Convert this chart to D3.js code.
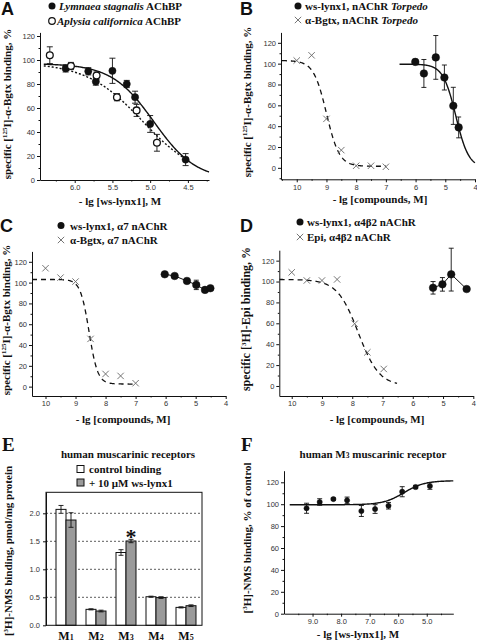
<!DOCTYPE html>
<html><head><meta charset="utf-8">
<script src="https://cdn.jsdelivr.net/npm/d3@7"></script>
<style>
body{margin:0;background:#fff}
svg{display:block}
text{font-family:"Liberation Serif","Times New Roman",serif;font-weight:bold;fill:#111}
.tick text{font-family:"Liberation Sans",Arial,sans-serif;font-weight:normal;font-size:7.5px;fill:#333}
.plet{font-family:"Liberation Sans",Arial,sans-serif;font-weight:bold;font-size:18px}
</style></head><body>
<svg id="c" width="477" height="644"></svg>
<script>
// ---------- DATA ----------
// Panel A
const A_lymX = [6.12, 5.82, 5.72, 5.5, 5.31, 5.2, 5.0, 4.53];
const A_lymY = [93, 90.6, 82, 91, 80, 69, 46.7, 17];
const A_lymE = [3, 3, 3, 10.5, 3, 5, 7, 5];
const A_aplX = [6.33, 6.05, 5.71, 5.44, 5.18, 4.91];
const A_aplY = [104, 95, 87, 69, 58, 31];
const A_aplE = [7, 3, 3, 3, 5, 7];
const A_fitLym = {top: 97, bottom: 0, p50: 4.95, n: 1.55, from: 6.41, to: 4.22};
const A_fitApl = {top: 98, bottom: 0, p50: 5.10, n: 1.16, from: 6.41, to: 4.48};
// Panel B
const B_lynxX = [6.01, 5.72, 5.32, 5.03, 4.73, 4.55];
const B_lynxY = [101.7, 90.6, 106, 86.7, 59.5, 38.8];
const B_lynxE = [2.5, 13.4, 21, 12, 17.8, 10];
const B_bgtxX = [10, 9.5, 9, 8.5, 8, 7.5, 7];
const B_bgtxY = [103, 108, 47, 17, 2, 2, 1];
const B_fitLynx = {top: 99.5, bottom: 0, p50: 4.645, n: 2.0, from: 6.54, to: 4.0};
const B_fitBgtx = {top: 103, bottom: 1.5, p50: 9.0, n: 2.0, from: 10.5, to: 7.0};
// Panel C
const C_lynxX = [6.03, 5.7, 5.29, 4.98, 4.69, 4.51];
const C_lynxY = [108, 106.4, 101.6, 97.8, 93, 94.6];
const C_lynxE = [1.5, 2, 2.5, 4.5, 1.5, 1.5];
const C_bgtxX = [10, 9.5, 9, 8.5, 8, 7.5, 7];
const C_bgtxY = [113.8, 104.8, 101, 45.9, 12.2, 10.3, 3.3];
const C_fitBgtx = {top: 103, bottom: 2.5, p50: 8.55, n: 3.0, from: 10.45, to: 7.0};
// Panel D
const D_lynxX = [5.33, 5.02, 4.73, 4.22];
const D_lynxY = [94, 97.3, 106.9, 92.8];
const D_lynxEup = [6, 6.5, 25, 1];
const D_lynxEdn = [6, 6.5, 16, 1];
const D_epiX = [10, 9.5, 9, 8.5, 7.92, 7.5, 6.96];
const D_epiY = [108.8, 101, 101, 102, 59.6, 32.2, 16.3];
const D_fitEpi = {top: 102, bottom: 0, p50: 7.8, n: 1.25, from: 10.4, to: 6.52};
// Panel E
const E_cats = ["1", "2", "3", "4", "5"];
const E_ctrl = [2.07, 0.285, 1.30, 0.51, 0.32];
const E_ctrlE = [0.07, 0.01, 0.05, 0.01, 0.01];
const E_lynx = [1.88, 0.255, 1.505, 0.495, 0.35];
const E_lynxE = [0.13, 0.015, 0.03, 0.015, 0.015];
const E_yTicks = [0, 0.5, 1.0, 1.5, 2.0];
const E_grid = [0.5, 1.0, 1.5, 2.0];
// Panel F
const F_x = [9.21, 8.75, 8.27, 7.79, 7.29, 6.81, 6.34, 5.86, 5.39, 4.89];
const F_y = [96.3, 102, 104.7, 103.5, 93.8, 95.6, 98.6, 111.4, 115.7, 116.6];
const F_e = [4.6, 3, 1, 3, 5, 4, 3, 4.6, 1.5, 3];
const F_fit = {low: 99.5, high: 121.5, p50: 5.8, n: 1.2, from: 9.8, to: 4.07};

// ---------- DRAW ----------
const svg = d3.select("#c");

function inhib(f){ return p => f.bottom + (f.top - f.bottom) / (1 + Math.pow(10, f.n * (f.p50 - p))); }
function stim(f){ return p => f.low + (f.high - f.low) / (1 + Math.pow(10, f.n * (p - f.p50))); }

function styleAxis(sel){
  sel.selectAll("path.domain").attr("stroke","#111").attr("stroke-width",1);
  sel.selectAll(".tick line").attr("stroke","#111");
}

function xyPanel(cfg){
  const x = d3.scaleLinear().domain(cfg.xd).range(cfg.xr);
  const y = d3.scaleLinear().domain(cfg.yd).range(cfg.yr);
  const g = svg.append("g");
  const fy = cfg.yFmt || d3.format("d");
  const fx = cfg.xFmt || d3.format("d");
  g.append("g").attr("transform",`translate(${cfg.xr[0]},0)`)
    .call(d3.axisLeft(y).tickValues(cfg.yMajor).tickSize(3).tickSizeOuter(0).tickPadding(2).tickFormat(fy)).call(styleAxis);
  g.append("g").attr("transform",`translate(${cfg.xr[0]},0)`)
    .call(d3.axisLeft(y).tickValues(cfg.yMinor).tickSize(1.5).tickSizeOuter(0).tickFormat("")).call(styleAxis)
    .select("path.domain").remove();
  g.append("g").attr("transform",`translate(0,${cfg.yr[0]})`)
    .call(d3.axisBottom(x).tickValues(cfg.xMajor).tickSize(3).tickSizeOuter(0).tickPadding(2).tickFormat(fx)).call(styleAxis);
  g.append("g").attr("transform",`translate(0,${cfg.yr[0]})`)
    .call(d3.axisBottom(x).tickValues(cfg.xMinor).tickSize(1.5).tickSizeOuter(0).tickFormat("")).call(styleAxis)
    .select("path.domain").remove();
  return {g, x, y};
}

function curve(P, fn, from, to, dash, width){
  const pts = d3.range(0, 201).map(i => from + (to - from) * i / 200);
  P.g.append("path")
    .attr("d", d3.line().x(p => P.x(p)).y(p => P.y(fn(p)))(pts))
    .attr("fill","none").attr("stroke","#111").attr("stroke-width", width || 1.3)
    .attr("stroke-dasharray", dash || null);
}

function errBars(P, xs, ys, up, dn, cap){
  cap = cap || 3;
  xs.forEach((xv, i) => {
    const cx = P.x(xv), y1 = P.y(ys[i] + up[i]), y0 = P.y(ys[i] - dn[i]);
    P.g.append("line").attr("x1",cx).attr("x2",cx).attr("y1",y1).attr("y2",y0).attr("stroke","#111").attr("stroke-width",0.9);
    [y1, y0].forEach(yy => P.g.append("line").attr("x1",cx-cap).attr("x2",cx+cap).attr("y1",yy).attr("y2",yy).attr("stroke","#111").attr("stroke-width",0.9));
  });
}

function dots(P, xs, ys, r, open){
  xs.forEach((xv, i) => P.g.append("circle").attr("cx",P.x(xv)).attr("cy",P.y(ys[i])).attr("r",r)
    .attr("fill", open ? "#fff" : "#111").attr("stroke","#111").attr("stroke-width", open ? 1.3 : 0.5));
}

function crossMark(g, cx, cy, s){
  g.append("path").attr("d",`M${cx-s},${cy-s}L${cx+s},${cy+s}M${cx-s},${cy+s}L${cx+s},${cy-s}`)
    .attr("stroke","#666").attr("stroke-width",0.9).attr("fill","none");
}
function crosses(P, xs, ys){ xs.forEach((xv,i) => crossMark(P.g, P.x(xv), P.y(ys[i]), 3.2)); }

function connect(P, xs, ys){
  P.g.append("path").attr("d", d3.line().x((d,i)=>P.x(xs[i])).y((d,i)=>P.y(ys[i]))(xs))
    .attr("fill","none").attr("stroke","#111").attr("stroke-width",1);
}

function yLabel(cx, cy, parts, size){
  const t = svg.append("text").attr("transform",`translate(${cx},${cy}) rotate(-90)`)
    .attr("text-anchor","middle").attr("font-size", size || 11);
  parts.forEach(p => {
    const ts = t.append("tspan").text(p.t);
    if (p.sup) ts.attr("font-size", 7).attr("dy", -4);
    if (p.after) ts.attr("dy", 4);
  });
  return t;
}
function xLabel(cx, cy, txt){
  svg.append("text").attr("x",cx).attr("y",cy).attr("text-anchor","middle").attr("font-size",11).text(txt);
}
function legendText(x, y, parts){
  const t = svg.append("text").attr("x",x).attr("y",y).attr("font-size",11);
  parts.forEach(p => { const ts = t.append("tspan").text(p.t); if (p.i) ts.attr("font-style","italic"); });
}
function letter(x, y, s, serif){
  const t = svg.append("text").attr("x",x).attr("y",y).text(s);
  if (serif) t.attr("font-size",19); else t.attr("class","plet");
}

const yMaj = [0,20,40,60,80,100,120];
const yMin = [10,30,50,70,90,110];

// ===== Panel A =====
const PA = xyPanel({xd:[6.46,4.22], xr:[40,209], yd:[0,123], yr:[180,32.4],
  yMajor:yMaj, yMinor:yMin, xMajor:[6.0,5.5,5.0,4.5], xMinor:[6.25,5.75,5.25,4.75,4.25], xFmt:d3.format(".1f")});
curve(PA, inhib(A_fitLym), A_fitLym.from, A_fitLym.to, null, 1.4);
curve(PA, inhib(A_fitApl), A_fitApl.from, A_fitApl.to, "2,2", 1.4);
errBars(PA, A_lymX, A_lymY, A_lymE, A_lymE);
errBars(PA, A_aplX, A_aplY, A_aplE, A_aplE);
dots(PA, A_lymX, A_lymY, 3.6, false);
dots(PA, A_aplX, A_aplY, 3.4, true);
letter(1, 15, "A");
svg.append("circle").attr("cx",52).attr("cy",6).attr("r",3.5).attr("fill","#111");
legendText(59, 10, [{t:"Lymnaea stagnalis", i:true},{t:" AChBP"}]);
svg.append("circle").attr("cx",52).attr("cy",21).attr("r",3.3).attr("fill","#fff").attr("stroke","#111").attr("stroke-width",1.2);
legendText(57, 24.5, [{t:"Aplysia californica", i:true},{t:" AChBP"}]);
yLabel(11, 104, [{t:"specific ["},{t:"125",sup:true},{t:"I]-α-Bgtx binding, %",after:true}]);
xLabel(120, 205, "- lg [ws-lynx1], M");

// ===== Panel B =====
const PB = xyPanel({xd:[10.53,4], xr:[281,475], yd:[-11,130], yr:[179.3,32.4],
  yMajor:yMaj, yMinor:[-10].concat(yMin), xMajor:[10,9,8,7,6,5,4], xMinor:[10.5,9.5,8.5,7.5,6.5,5.5,4.5]});
curve(PB, inhib(B_fitBgtx), B_fitBgtx.from, B_fitBgtx.to, "5,4", 1.3);
curve(PB, inhib(B_fitLynx), B_fitLynx.from, B_fitLynx.to, null, 1.4);
crosses(PB, B_bgtxX, B_bgtxY);
errBars(PB, B_lynxX, B_lynxY, B_lynxE, B_lynxE, 2.5);
dots(PB, B_lynxX, B_lynxY, 3.8, false);
letter(240, 15, "B");
svg.append("circle").attr("cx",298).attr("cy",6).attr("r",3.5).attr("fill","#111");
legendText(305, 10, [{t:"ws-lynx1, nAChR "},{t:"Torpedo", i:true}]);
crossMark(svg, 298, 20, 3.2);
legendText(305, 24, [{t:"α-Bgtx, nAChR "},{t:"Torpedo", i:true}]);
yLabel(251, 102, [{t:"specific ["},{t:"125",sup:true},{t:"I]-α-Bgtx binding, %",after:true}]);
xLabel(380, 203, "- lg [compounds, M]");

// ===== Panel C =====
const PC = xyPanel({xd:[10.45,4], xr:[32,225.7], yd:[-9,130], yr:[396,251.4],
  yMajor:yMaj, yMinor:yMin, xMajor:[10,9,8,7,6,5,4], xMinor:[9.5,8.5,7.5,6.5,5.5,4.5]});
curve(PC, inhib(C_fitBgtx), C_fitBgtx.from, C_fitBgtx.to, "5,4", 1.3);
crosses(PC, C_bgtxX, C_bgtxY);
connect(PC, C_lynxX, C_lynxY);
errBars(PC, C_lynxX, C_lynxY, C_lynxE, C_lynxE, 2.5);
dots(PC, C_lynxX, C_lynxY, 3.8, false);
letter(0, 232, "C");
svg.append("circle").attr("cx",61).attr("cy",225.5).attr("r",3.5).attr("fill","#111");
legendText(70, 229.5, [{t:"ws-lynx1, α7 nAChR"}]);
crossMark(svg, 61, 240, 3.2);
legendText(70, 243.5, [{t:"α-Bgtx, α7 nAChR"}]);
yLabel(10, 320, [{t:"specific ["},{t:"125",sup:true},{t:"I]-α-Bgtx binding, %",after:true}]);
xLabel(123, 423, "- lg [compounds, M]");

// ===== Panel D =====
const PD = xyPanel({xd:[10.41,4], xr:[279.3,473.3], yd:[-9.6,130], yr:[396,250.2],
  yMajor:yMaj, yMinor:yMin, xMajor:[10,9,8,7,6,5,4], xMinor:[9.5,8.5,7.5,6.5,5.5,4.5]});
curve(PD, inhib(D_fitEpi), D_fitEpi.from, D_fitEpi.to, "5,4", 1.3);
crosses(PD, D_epiX, D_epiY);
connect(PD, D_lynxX, D_lynxY);
errBars(PD, D_lynxX, D_lynxY, D_lynxEup, D_lynxEdn, 2.5);
dots(PD, D_lynxX, D_lynxY, 3.8, false);
letter(240, 232, "D");
svg.append("circle").attr("cx",300).attr("cy",222).attr("r",3.5).attr("fill","#111");
legendText(307, 226, [{t:"ws-lynx1, α4β2 nAChR"}]);
crossMark(svg, 300, 237, 3.2);
legendText(307, 240.5, [{t:"Epi, α4β2 nAChR"}]);
yLabel(250, 319, [{t:"specific ["},{t:"3",sup:true},{t:"H]-Epi binding, %",after:true}], 12);
xLabel(377, 423, "- lg [compounds, M]");

// ===== Panel E =====
(function(){
  const x0 = d3.scaleBand().domain(E_cats).range([51,201]).paddingInner(1/3).paddingOuter(1/6);
  const x1 = d3.scaleBand().domain(["c","l"]).range([0, x0.bandwidth()]);
  const y = d3.scaleLinear().domain([0,2.375]).range([625.3,492.3]);
  const g = svg.append("g");
  g.append("g").selectAll("line").data(E_grid).join("line")
    .attr("x1",46).attr("x2",202).attr("y1",d=>y(d)).attr("y2",d=>y(d))
    .attr("stroke","#333").attr("stroke-width",0.8).attr("stroke-dasharray","2,2");
  g.append("g").attr("transform","translate(46,0)")
    .call(d3.axisLeft(y).tickValues(E_yTicks).tickSize(3).tickSizeOuter(0).tickPadding(3).tickFormat(d3.format(".1f"))).call(styleAxis);
  const series = [{k:"c", v:E_ctrl, e:E_ctrlE, fill:"#fff"},{k:"l", v:E_lynx, e:E_lynxE, fill:"#9a9a9a"}];
  series.forEach(s => {
    E_cats.forEach((c,i) => {
      const bx = x0(c) + x1(s.k);
      g.append("rect").attr("x",bx).attr("y",y(s.v[i])).attr("width",x1.bandwidth()).attr("height",y(0)-y(s.v[i]))
        .attr("fill",s.fill).attr("stroke","#111").attr("stroke-width",1);
      const cx = bx + x1.bandwidth()/2;
      const yt = y(s.v[i]+s.e[i]), yb = y(s.v[i]-s.e[i]);
      g.append("line").attr("x1",cx).attr("x2",cx).attr("y1",yt).attr("y2",yb).attr("stroke","#111").attr("stroke-width",0.9);
      [yt,yb].forEach(yy => g.append("line").attr("x1",cx-2.5).attr("x2",cx+2.5).attr("y1",yy).attr("y2",yy).attr("stroke","#111").attr("stroke-width",0.9));
    });
  });
  g.append("rect").attr("x",46).attr("y",492.3).attr("width",156).attr("height",133)
    .attr("fill","none").attr("stroke","#111").attr("stroke-width",1);
  E_cats.forEach(c => {
    const t = g.append("text").attr("x", x0(c)+x0.bandwidth()/2).attr("y",640).attr("text-anchor","middle").attr("font-size",12);
    t.append("tspan").text("M");
    t.append("tspan").attr("font-size",8).text(c);
  });
  // asterisk above M3 ws-lynx1 bar
  g.append("text").attr("x", x0("3")+x1("l")+x1.bandwidth()/2).attr("y", y(E_lynx[2]+E_lynxE[2]) + 5)
    .attr("text-anchor","middle").attr("font-size",22).text("*");
  letter(2, 451, "E", true);
  svg.append("text").attr("x",128).attr("y",457.5).attr("text-anchor","middle").attr("font-size",11).text("human muscarinic receptors");
  svg.append("rect").attr("x",77).attr("y",465.5).attr("width",7).attr("height",7).attr("fill","#fff").attr("stroke","#111");
  legendText(89, 473, [{t:"control binding"}]);
  svg.append("rect").attr("x",77).attr("y",479).attr("width",7).attr("height",7).attr("fill","#9a9a9a").attr("stroke","#111");
  legendText(89, 486.5, [{t:"+ 10 μM ws-lynx1"}]);
  yLabel(12, 551, [{t:"["},{t:"3",sup:true},{t:"H]-NMS binding, pmol/mg protein",after:true}]);
})();

// ===== Panel F =====
const PF = xyPanel({xd:[10,4.07], xr:[284,453.3], yd:[0,130.6], yr:[613.7,470.7],
  yMajor:yMaj, yMinor:yMin, xMajor:[9,8,7,6,5], xMinor:[9.5,8.5,7.5,6.5,5.5,4.5], xFmt:d3.format(".1f")});
curve(PF, stim(F_fit), F_fit.from, F_fit.to, null, 1.4);
errBars(PF, F_x, F_y, F_e, F_e, 2.5);
dots(PF, F_x, F_y, 2.6, false);
letter(241, 451, "F", true);
(function(){
  const t = svg.append("text").attr("x",373).attr("y",457.5).attr("text-anchor","middle").attr("font-size",11);
  t.append("tspan").text("human M");
  t.append("tspan").attr("font-size",7.5).text("3");
  t.append("tspan").text(" muscarinic receptor");
})();
yLabel(251, 538, [{t:"["},{t:"3",sup:true},{t:"H]-NMS binding, % of control",after:true}]);
xLabel(358, 638, "- lg [ws-lynx1], M");
</script>
</body></html>
